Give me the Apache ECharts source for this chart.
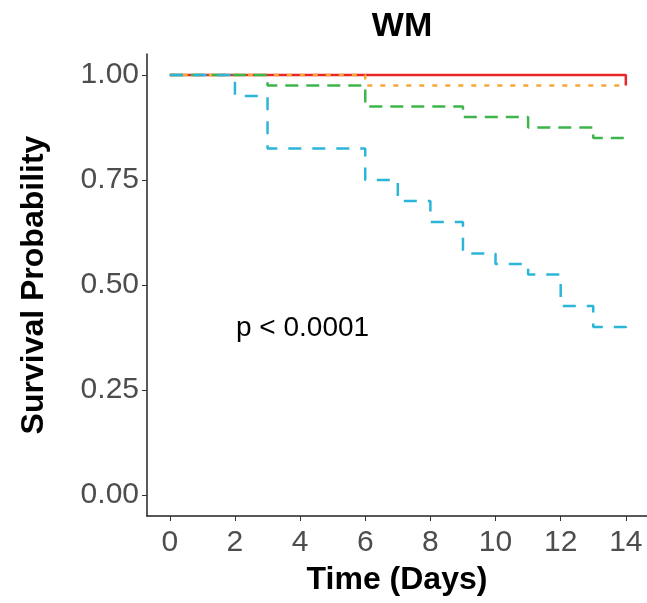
<!DOCTYPE html>
<html>
<head>
<meta charset="utf-8">
<script src="https://cdn.jsdelivr.net/npm/echarts@6/dist/echarts.min.js"></script>
<style>
  html, body { margin: 0; padding: 0; background: #fff; }
  #main { width: 647px; height: 603px; }
</style>
</head>
<body>
<div id="main"></div>
<script>
// survival curves (time in days, survival probability)
const redTime = [0, 14, 14];
const redSurv = [1.0, 1.0, 0.975];
const orangeTime = [0, 6, 14];
const orangeSurv = [1.0, 0.975, 0.975];
const greenTime = [0, 3, 6, 9, 11, 13, 14];
const greenSurv = [1.0, 0.975, 0.925, 0.9, 0.875, 0.85, 0.85];
const blueTime = [0, 2, 3, 6, 7, 8, 9, 10, 11, 12, 13, 14];
const blueSurv = [1.0, 0.95, 0.825, 0.75, 0.7, 0.65, 0.575, 0.55, 0.525, 0.45, 0.4, 0.375];

const xTicks = [0, 2, 4, 6, 8, 10, 12, 14];
const yTicks = [0, 0.25, 0.5, 0.75, 1.0];

const font = '"Liberation Sans", Arial, sans-serif';

function pairs(t, s) {
  return t.map((v, i) => [v, s[i]]);
}

function curve(name, t, s, color, dash) {
  return {
    name: name,
    type: 'line',
    step: 'end',
    data: pairs(t, s),
    symbol: 'none',
    lineStyle: { color: color, width: 2.5, type: dash },
    silent: true
  };
}

const chart = echarts.init(document.getElementById('main'));
chart.setOption({
  backgroundColor: '#ffffff',
  animation: false,
  title: {
    text: 'WM',
    left: 397,
    textAlign: 'center',
    top: 5,
    textStyle: { fontFamily: font, fontSize: 34, fontWeight: 'bold', color: '#000' }
  },
  grid: { left: 147, right: 0, top: 54, bottom: 87, outerBoundsMode: 'none', containLabel: false },
  xAxis: {
    type: 'value',
    min: -0.7,
    max: 14.65,
    name: 'Time (Days)',
    nameLocation: 'middle',
    nameGap: 48,
    nameTextStyle: { fontFamily: font, fontSize: 32, fontWeight: 'bold', color: '#000' },
    axisLine: { onZero: false, lineStyle: { color: '#222', width: 1.5 } },
    axisTick: { customValues: xTicks, length: 5, lineStyle: { color: '#333' } },
    axisLabel: {
      customValues: xTicks,
      margin: 12,
      fontFamily: font,
      fontSize: 30,
      color: '#4d4d4d'
    },
    splitLine: { show: false }
  },
  yAxis: {
    type: 'value',
    min: -0.05,
    max: 1.05,
    name: 'Survival Probability',
    nameLocation: 'middle',
    nameGap: 97,
    nameTextStyle: { fontFamily: font, fontSize: 32, fontWeight: 'bold', color: '#000' },
    axisLine: { show: true, onZero: false, lineStyle: { color: '#222', width: 1.5 } },
    axisTick: { show: true, customValues: yTicks, length: 5, lineStyle: { color: '#333' } },
    axisLabel: {
      customValues: yTicks,
      margin: 8,
      fontFamily: font,
      fontSize: 30,
      color: '#4d4d4d',
      formatter: v => v.toFixed(2)
    },
    splitLine: { show: false }
  },
  graphic: [{
    type: 'text',
    left: 236,
    top: 314,
    style: { text: 'p < 0.0001', fontFamily: font, fontSize: 28, fill: '#000' }
  }],
  series: [
    curve('red', redTime, redSurv, '#e8262a', 'solid'),
    curve('orange', orangeTime, orangeSurv, '#f7a634', [5, 8]),
    curve('green', greenTime, greenSurv, '#3db54a', [13, 8]),
    curve('blue', blueTime, blueSurv, '#2bb5d8', [13, 11])
  ]
});
</script>
</body>
</html>
